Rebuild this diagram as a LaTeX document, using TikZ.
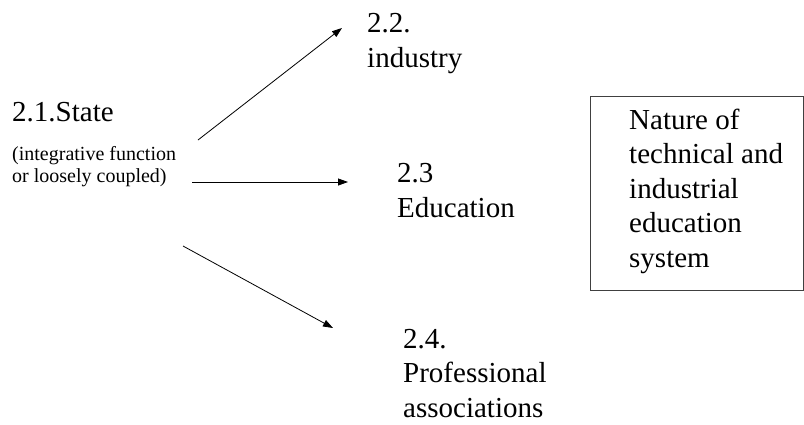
\documentclass[tikz,border=0pt]{standalone}
\usepackage{fontspec}
\setmainfont{Liberation Serif}
\usetikzlibrary{arrows.meta}

\tikzset{
  topic/.style={anchor=base west, inner sep=0pt, align=left,
    font=\fontsize{29}{34.5}\selectfont},
  remark/.style={anchor=base west, inner sep=0pt, align=left,
    font=\fontsize{20}{22}\selectfont},
  naturebox/.style={draw=black!75, line width=0.8pt, anchor=north west,
    minimum width=213pt, minimum height=194pt, inner sep=0pt},
  link/.style={line width=0.8pt, -{Triangle[length=10pt,width=7pt]}}
}

\begin{document}
\begin{tikzpicture}[x=1pt, y=-1pt]
\useasboundingbox (0,0) rectangle (804,424);

% actors (base = last line)
\node [topic] (state) at (12,121) {2.1.State};
\node [remark] (role) at (12,182) {(integrative function\\or loosely coupled)};
\node [topic] (industry) at (367,67) {2.2.\\industry};
\node [topic] (education) at (397,217) {2.3\\Education};
\node [topic] (assoc) at (403,417) {2.4.\\Professional\\associations};

% nature of the system
\node [naturebox] (box) at (590,96) {};
\node [topic] (nature) at (629,267) {Nature of\\technical and\\industrial\\education\\system};

% arrow ends
\coordinate (s1) at (198,140);
\coordinate (e1) at (342,28);
\coordinate (s2) at (192,182);
\coordinate (e2) at (348,182);
\coordinate (s3) at (183,246);
\coordinate (e3) at (333,328);

\draw [link] (s1) -- (e1);
\draw [link] (s2) -- (e2);
\draw [link] (s3) -- (e3);
\end{tikzpicture}
\end{document}
